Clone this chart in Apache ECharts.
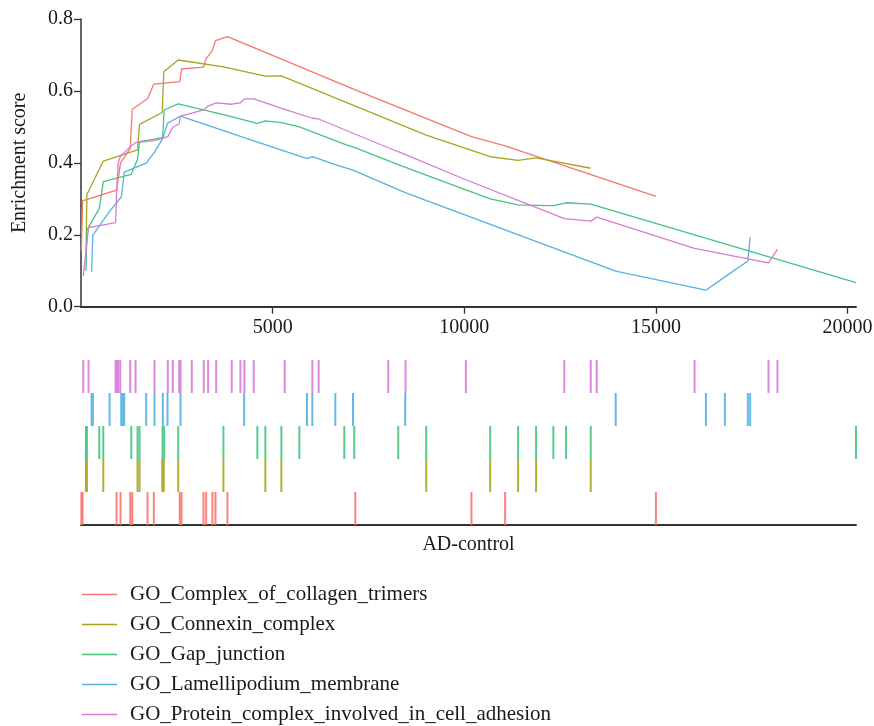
<!DOCTYPE html>
<html>
<head>
<meta charset="utf-8">
<script src="https://cdn.jsdelivr.net/npm/echarts@6/dist/echarts.min.js"></script>
<style>
  html, body { margin: 0; padding: 0; background: #fff; }
  #chart { width: 874px; height: 726px; }
</style>
</head>
<body>
<div id="chart"></div>
<script>
// gene set names (legend order)
const setNames = [
  'GO_Complex_of_collagen_trimers',
  'GO_Connexin_complex',
  'GO_Gap_junction',
  'GO_Lamellipodium_membrane',
  'GO_Protein_complex_involved_in_cell_adhesion'
];
const setColors = ['#F8766D', '#A8A51E', '#45C47F', '#56B1E2', '#D77CD6'];

// hit positions (rank in AD-control list) and running enrichment score at each hit
const collagenHits = [10, 40, 928, 1032, 1285, 1337, 1736, 1900, 2577, 2622, 3195, 3265, 3429, 3508, 3821, 7156, 10187, 11065, 15000];
const collagenES = [0.155, 0.294, 0.324, 0.40, 0.44, 0.549, 0.578, 0.619, 0.626, 0.661, 0.666, 0.69, 0.713, 0.74, 0.751, 0.603, 0.473, 0.447, 0.307];

const connexinHits = [130, 154, 581, 1475, 1527, 2120, 2160, 2536, 3716, 4810, 5228, 9007, 10675, 11404, 11873, 13299];
const connexinES = [0.15, 0.312, 0.405, 0.436, 0.507, 0.54, 0.653, 0.686, 0.667, 0.641, 0.642, 0.477, 0.417, 0.407, 0.414, 0.385];

const gapHits = [130, 154, 477, 581, 1311, 1475, 1527, 2127, 2171, 2536, 3716, 4602, 4810, 5228, 5697, 6870, 7130, 8277, 9007, 10675, 11404, 11873, 12324, 12655, 13299, 20220];
const gapES = [0.10, 0.213, 0.273, 0.348, 0.368, 0.41, 0.459, 0.47, 0.547, 0.564, 0.534, 0.51, 0.517, 0.512, 0.50, 0.452, 0.443, 0.395, 0.366, 0.30, 0.283, 0.282, 0.281, 0.289, 0.285, 0.067];

const lamellipodiumHits = [276, 310, 745, 1050, 1092, 1128, 1702, 1918, 2134, 2257, 2596, 4256, 5897, 6036, 6635, 7096, 8459, 13950, 16304, 16799, 17398, 17458];
const lamellipodiumES = [0.097, 0.199, 0.265, 0.305, 0.34, 0.374, 0.399, 0.43, 0.468, 0.51, 0.53, 0.47, 0.412, 0.417, 0.395, 0.38, 0.317, 0.099, 0.046, 0.083, 0.127, 0.193];

const adhesionHits = [60, 198, 902, 936, 972, 1024, 1285, 1423, 1918, 2265, 2395, 2562, 2596, 2890, 3203, 3317, 3526, 3932, 4159, 4263, 4506, 5314, 6036, 6200, 8016, 8467, 10041, 12611, 13299, 13455, 16008, 17937, 18171];
const adhesionES = [0.085, 0.22, 0.234, 0.334, 0.40, 0.417, 0.445, 0.456, 0.462, 0.473, 0.499, 0.508, 0.53, 0.538, 0.547, 0.558, 0.567, 0.563, 0.567, 0.578, 0.578, 0.549, 0.524, 0.522, 0.442, 0.423, 0.353, 0.245, 0.238, 0.249, 0.162, 0.122, 0.16];

const xTicks = [5000, 10000, 15000, 20000];
const yTicks = [0, 0.2, 0.4, 0.6, 0.8];
const xMax = 20220;

const allHits = [collagenHits, connexinHits, gapHits, lamellipodiumHits, adhesionHits];
const allES = [collagenES, connexinES, gapES, lamellipodiumES, adhesionES];

const font = 'Liberation Serif';
const ink = '#1a1a1a';

const lineSeries = setNames.map((name, i) => ({
  name: name,
  type: 'line',
  xAxisIndex: 0,
  yAxisIndex: 0,
  symbol: 'none',
  color: setColors[i],
  lineStyle: { width: 1.3, color: setColors[i] },
  data: allHits[i].map((x, j) => [x, allES[i][j]]),
  silent: true,
  z: 3
}));

const rugSeries = setNames.map((name, i) => ({
  name: name + ' hits',
  type: 'scatter',
  xAxisIndex: 1,
  yAxisIndex: 1,
  symbol: 'rect',
  symbolSize: [2, 33],
  itemStyle: { color: setColors[i], opacity: 0.9 },
  data: allHits[i].map(x => [x, i]),
  silent: true
}));

const chart = echarts.init(document.getElementById('chart'), null, { renderer: 'canvas' });

chart.setOption({
  animation: false,
  backgroundColor: '#fff',
  textStyle: { fontFamily: font },
  grid: [
    { left: 81, right: 18, top: 19, bottom: 419.3, outerBoundsMode: 'none', containLabel: false },
    { left: 81, right: 18, top: 360, bottom: 201, outerBoundsMode: 'none', containLabel: false }
  ],
  xAxis: [
    {
      type: 'value', gridIndex: 0, min: 0, max: xMax,
      axisLine: { onZero: false, lineStyle: { color: '#333', width: 2 } },
      axisTick: { customValues: xTicks, length: 7, lineStyle: { color: '#333', width: 1.3 } },
      axisLabel: {
        customValues: xTicks, color: ink, fontSize: 20, fontFamily: font, margin: 11,
        formatter: v => String(v)
      },
      splitLine: { show: false }
    },
    {
      type: 'value', gridIndex: 1, min: 0, max: xMax, position: 'bottom',
      name: 'AD-control', nameLocation: 'middle', nameGap: 10,
      nameTextStyle: { color: ink, fontSize: 20, fontFamily: font, verticalAlign: 'top' },
      axisLine: { show: true, onZero: false, lineStyle: { color: '#333', width: 2 } },
      axisTick: { show: false },
      axisLabel: { show: false },
      splitLine: { show: false }
    }
  ],
  yAxis: [
    {
      type: 'value', gridIndex: 0, min: 0, max: 0.8,
      name: 'Enrichment score', nameLocation: 'middle', nameGap: 51,
      nameTextStyle: { color: ink, fontSize: 20, fontFamily: font },
      axisLine: { show: true, onZero: false, lineStyle: { color: '#333', width: 1.5 } },
      axisTick: { show: true, customValues: yTicks, length: 7, lineStyle: { color: '#333', width: 1.3 } },
      axisLabel: {
        customValues: yTicks, color: ink, fontSize: 20, fontFamily: font, margin: 8,
        formatter: v => v.toFixed(1)
      },
      splitLine: { show: false }
    },
    {
      type: 'category', gridIndex: 1,
      data: setNames,
      boundaryGap: true,
      axisLine: { show: false },
      axisTick: { show: false },
      axisLabel: { show: false },
      splitLine: { show: false }
    }
  ],
  legend: {
    data: setNames,
    orient: 'vertical',
    left: 82,
    top: 584,
    width: 600,
    height: 200,
    padding: 0,
    itemWidth: 35,
    itemHeight: 14,
    itemGap: 9,
    icon: 'path://M0,0 L35,0 L35,1.3 L0,1.3 Z',
    textStyle: { color: ink, fontSize: 21, fontFamily: font, lineHeight: 21, padding: [0, 0, 0, 8] }
  },
  series: lineSeries.concat(rugSeries)
});
</script>
</body>
</html>
